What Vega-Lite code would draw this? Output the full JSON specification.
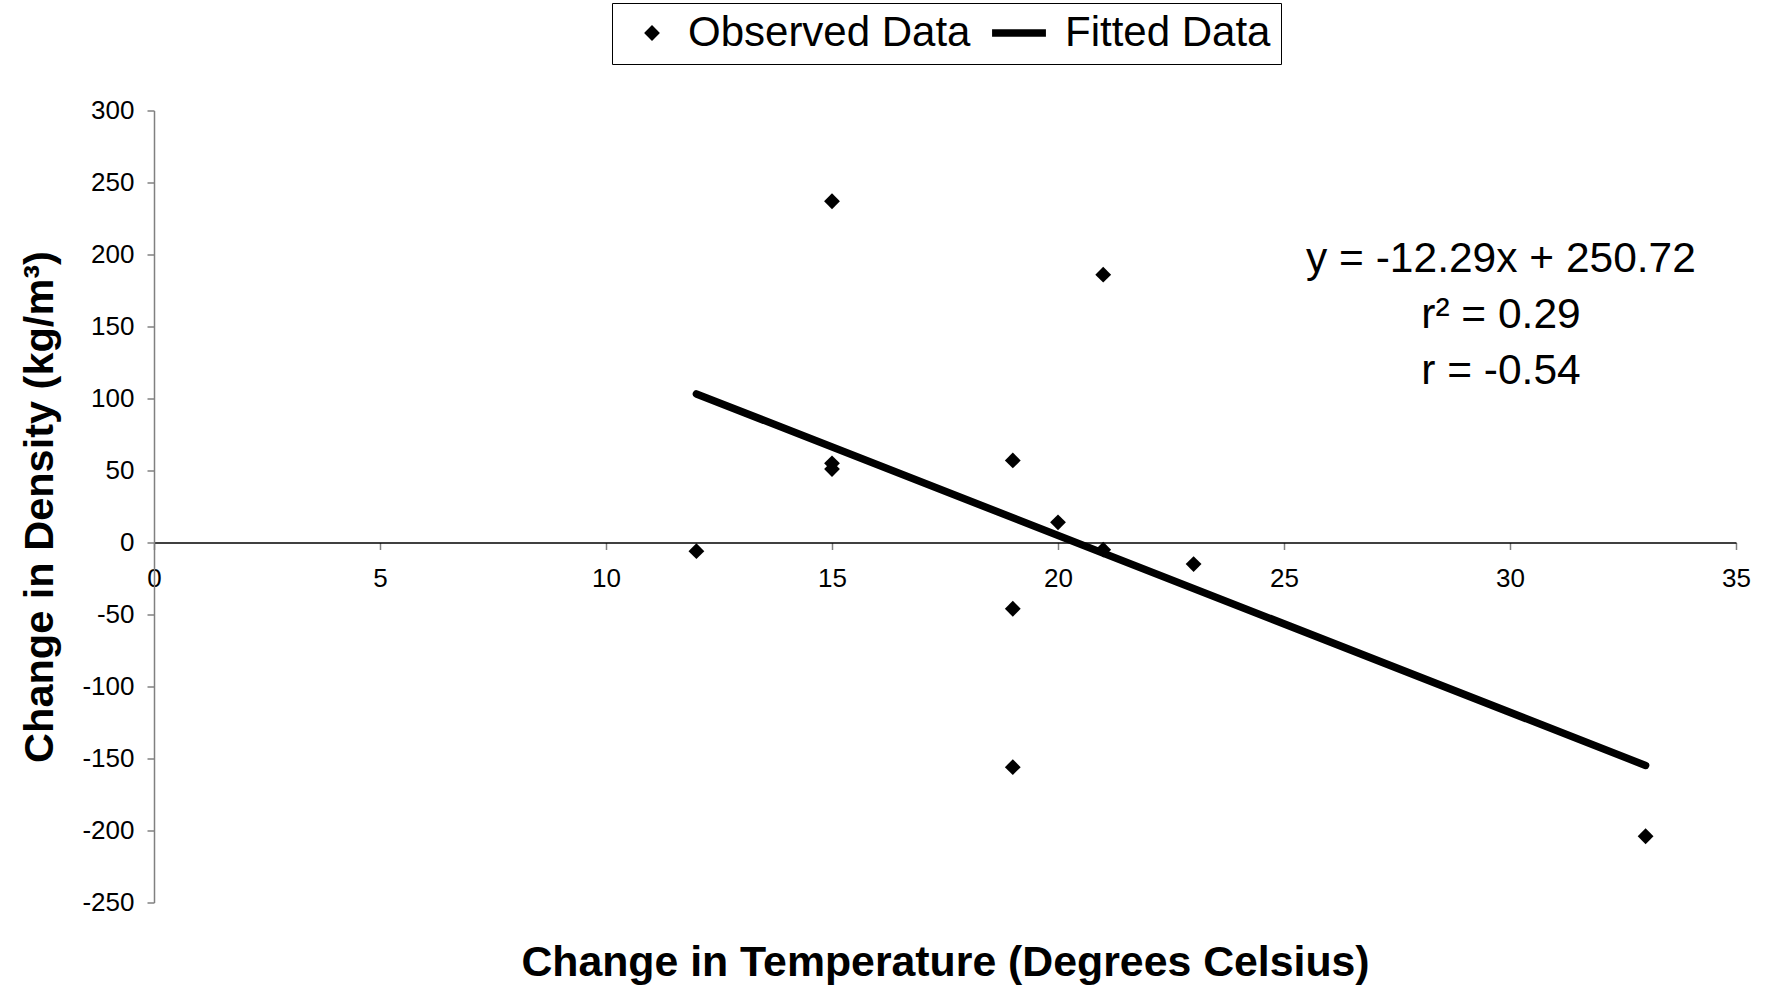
{
  "$schema": "https://vega.github.io/schema/vega-lite/v6.json",
  "width": 1582,
  "height": 792,
  "autosize": {"type": "none"},
  "padding": {"left": 154, "top": 110.5, "right": 35, "bottom": 82.5},
  "background": "white",
  "config": {"view": {"stroke": null}, "font": "Liberation Sans", "axis": {"grid": false}},
  "datasets": {
    "observed": [
      {"temp": 12, "density": -6, "series": "Observed Data"},
      {"temp": 15, "density": 237, "series": "Observed Data"},
      {"temp": 15, "density": 55, "series": "Observed Data"},
      {"temp": 15, "density": 51, "series": "Observed Data"},
      {"temp": 19, "density": 57, "series": "Observed Data"},
      {"temp": 19, "density": -46, "series": "Observed Data"},
      {"temp": 19, "density": -156, "series": "Observed Data"},
      {"temp": 20, "density": 14, "series": "Observed Data"},
      {"temp": 21, "density": 186, "series": "Observed Data"},
      {"temp": 21, "density": -5, "series": "Observed Data"},
      {"temp": 23, "density": -15, "series": "Observed Data"},
      {"temp": 33, "density": -204, "series": "Observed Data"}
    ],
    "fitted": [
      {"temp": 12, "density": 103.2, "series": "Fitted Data"},
      {"temp": 33, "density": -154.8, "series": "Fitted Data"}
    ]
  },
  "layer": [
    {
      "data": {"name": "fitted"},
      "mark": {"type": "line", "color": "black", "strokeWidth": 7.5, "strokeCap": "round"},
      "encoding": {
        "x": {
          "field": "temp", "type": "quantitative",
          "scale": {"domain": [0, 35], "nice": false, "zero": false},
          "axis": {
            "values": [0, 5, 10, 15, 20, 25, 30, 35],
            "offset": -360,
            "domainColor": "black", "domainWidth": 1.5,
            "tickColor": "#808080", "tickSize": 7, "tickWidth": 1.5,
            "labelFontSize": 26, "labelColor": "black", "labelPadding": 16, "labelFont": "Liberation Sans",
            "labelFlush": false, "labelOverlap": false,
            "title": "Change in Temperature (Degrees Celsius)",
            "titleFont": "Liberation Sans", "titleFontSize": 42.8, "titleFontWeight": "bold", "titleColor": "black",
            "titleX": 791, "titleY": 420, "titleBaseline": "middle", "titleAlign": "center"
          }
        },
        "y": {
          "field": "density", "type": "quantitative",
          "scale": {"domain": [-250, 300], "nice": false, "zero": false},
          "axis": {
            "values": [-250, -200, -150, -100, -50, 0, 50, 100, 150, 200, 250, 300],
            "domainColor": "#808080", "domainWidth": 1.5,
            "tickColor": "#808080", "tickSize": 7, "tickWidth": 1.5,
            "labelFontSize": 26, "labelColor": "black", "labelPadding": 13, "labelFont": "Liberation Sans",
            "labelExpr": "replace(datum.label, '\u2212', '-')",
            "labelFlush": false, "labelOverlap": false,
            "title": "Change in Density (kg/m³)",
            "titleFont": "Liberation Sans", "titleFontSize": 41.5, "titleFontWeight": "bold", "titleColor": "black",
            "titleX": -114, "titleBaseline": "middle"
          }
        }
      }
    },
    {
      "data": {"name": "observed"},
      "mark": {"type": "point", "filled": true, "color": "black", "fill": "black", "stroke": "black", "opacity": 1, "strokeCap": "round"},
      "encoding": {
        "x": {"field": "temp", "type": "quantitative"},
        "y": {"field": "density", "type": "quantitative"},
        "shape": {
          "field": "series", "type": "nominal",
          "scale": {"domain": ["Observed Data", "Fitted Data"], "range": ["diamond", "stroke"]},
          "legend": {
            "title": null, "orient": "none", "legendX": 458, "legendY": -107.5,
            "direction": "horizontal",
            "labelFontSize": 42, "labelFont": "Liberation Sans", "labelColor": "black", "labelLimit": 0,
            "labelOffset": 15, "symbolOffset": 9, "columnPadding": 8, "padding": 10,
            "strokeColor": "black", "fillColor": "white", "clipHeight": 40, "symbolOpacity": 1
          }
        },
        "size": {
          "field": "series", "type": "nominal",
          "scale": {"domain": ["Observed Data", "Fitted Data"], "range": [250, 2900]},
          "legend": {
            "title": null, "orient": "none", "legendX": 458, "legendY": -107.5,
            "direction": "horizontal",
            "labelFontSize": 42, "labelFont": "Liberation Sans", "labelColor": "black", "labelLimit": 0,
            "labelOffset": 15, "symbolOffset": 9, "columnPadding": 8, "padding": 10,
            "strokeColor": "black", "fillColor": "white", "clipHeight": 40, "symbolOpacity": 1
          }
        },
        "strokeWidth": {
          "field": "series", "type": "nominal",
          "scale": {"domain": ["Observed Data", "Fitted Data"], "range": [0, 7.5]},
          "legend": {
            "title": null, "orient": "none", "legendX": 458, "legendY": -107.5,
            "direction": "horizontal",
            "labelFontSize": 42, "labelFont": "Liberation Sans", "labelColor": "black", "labelLimit": 0,
            "labelOffset": 15, "symbolOffset": 9, "columnPadding": 8, "padding": 10,
            "strokeColor": "black", "fillColor": "white", "clipHeight": 40, "symbolOpacity": 1
          }
        }
      }
    },
    {
      "data": {"values": [{}]},
      "mark": {
        "type": "text",
        "text": ["y = -12.29x + 250.72", "r² = 0.29", "r = -0.54"],
        "font": "Liberation Sans", "fontSize": 42.5, "lineHeight": 56,
        "align": "center", "baseline": "middle", "color": "black"
      },
      "encoding": {
        "x": {"datum": 29.8, "type": "quantitative"},
        "y": {"datum": 197, "type": "quantitative"}
      }
    }
  ]
}
